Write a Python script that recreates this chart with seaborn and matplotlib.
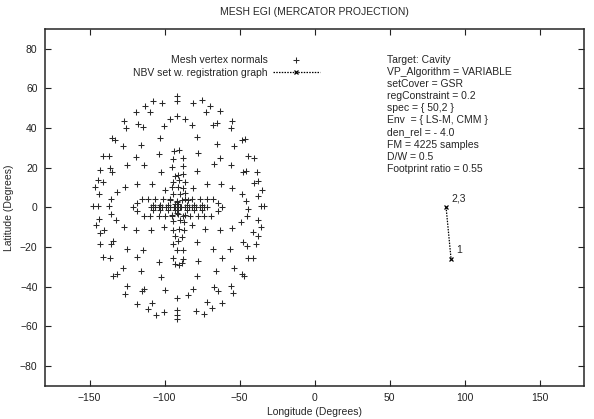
import numpy as np
import pandas as pd
import seaborn as sns
import matplotlib
matplotlib.use("Agg")
import matplotlib.pyplot as plt

# 网格顶点法向 (经度, 纬度) —— 从图上读出
mesh_lon = [
    # 左上
    -91.9, -91.9, -107.4, -101.4, -113.0, -119.2, -109.7, -126.8, -125.9, -117.4,
    -114.1, -96.3, -91.9, -100.3, -103.0, -134.8, -133.0, -127.4, -115.7, -119.2,
    -103.7, -140.8, -137.0, -125.2, -113.7, -143.0, -136.3, -135.2, -102.3, -144.1,
    -140.8, -146.3, -126.3, -118.1, -108.6, -143.7, -131.9, -135.7, -99.7, -147.4,
    -144.1, -137.0,
    # 右上
    -80.8, -75.2, -69.7, -72.6, -63.0, -86.3, -81.9, -67.4, -65.2, -54.8,
    -55.7, -78.6, -65.2, -53.4, -48.6, -46.3, -77.4, -63.0, -66.8, -55.9,
    -44.6, -40.6, -78.6, -47.4, -45.7, -38.6, -71.9, -62.6, -54.8, -80.8,
    -40.3, -37.4, -35.2, -48.6, -37.9, -45.7, -35.7, -33.4,
    # 左下
    -143.7, -145.9, -135.7, -132.6, -143.0, -140.1, -126.8, -119.2, -109.0, -100.3,
    -143.0, -135.7, -134.1, -125.2, -114.1, -118.1, -140.8, -136.3, -103.7, -134.1,
    -131.9, -127.4, -115.9, -102.3, -125.2, -126.3, -115.2, -113.4, -99.7, -118.6,
    -111.2, -108.6, -105.9, -100.3,
    # 右下
    -81.9, -73.0, -63.0, -54.8, -49.0, -45.2, -37.9, -35.7, -40.8, -38.0,
    -47.4, -45.2, -39.0, -78.6, -67.4, -56.3, -61.9, -77.9, -44.6, -40.8,
    -65.9, -53.7, -48.6, -46.8, -78.6, -80.8, -66.8, -64.1, -55.7, -54.1,
    -84.6, -71.9, -61.9, -68.6, -79.2, -73.4, -44.6,
    # 中心竖列下端
    -92.0, -91.5, -91.5, -91.5,
    # 水平椭圆
    -115.2, -110.8, -106.3, -100.8, -96.3, -86.3, -81.9, -76.3, -71.9, -67.4,
    -118.6, -64.1, -120.8, -62.0, -118.6, -64.1,
    -114.0, -109.7, -104.0, -99.7, -95.2, -87.6, -83.0, -78.0, -73.5, -69.0,
    # 水平密集条
    -109.0, -106.5, -104.0, -101.5, -99.0, -96.5, -94.0, -89.0, -86.5, -84.0,
    -81.5, -79.0, -76.5, -74.0, -71.5,
    -107.8, -102.8, -97.8, -85.2, -80.2, -75.2,
    -107.8, -102.8, -97.8, -85.2, -80.2, -75.2,
    # 中心
    -91.7, -92.7, -90.7, -92.7, -90.7, -91.7, -91.7, -93.5, -89.9,
    # 竖直臂
    -93.5, -90.5, -94.5, -88.0, -95.2, -87.4, -91.0, -93.0, -87.4, -94.1,
    -90.1, -86.3, -95.2, -90.7, -87.4, -94.1, -89.6, -86.3, -96.3, -91.9,
    -88.5, -84.1, -95.2, -90.7, -86.3, -94.1, -89.6, -87.0, -94.5, -90.1,
    -87.0, -93.0, -88.5, -90.7, -94.1, -91.9, -87.4, -94.1, -87.4, -93.0,
    -90.1, -88.5,
]
mesh_lat = [
    # 左上
    56.3, 53.8, 53.8, 52.6, 51.0, 48.3, 48.3, 43.8, 40.1, 42.1,
    40.5, 44.6, 46.0, 41.0, 35.1, 35.0, 33.8, 31.0, 31.6, 25.5,
    26.8, 26.0, 26.0, 21.3, 21.6, 18.8, 20.0, 17.6, 17.6, 13.8,
    12.6, 10.5, 10.5, 11.8, 11.6, 6.8, 7.6, 4.1, 8.8, 0.5,
    0.5, 0.5,
    # 右上
    52.6, 54.3, 51.0, 48.3, 48.8, 44.6, 41.6, 41.3, 42.6, 43.8,
    40.1, 35.5, 32.1, 31.0, 33.8, 34.6, 27.6, 25.0, 21.8, 21.3,
    25.8, 25.1, 18.5, 17.6, 18.3, 17.6, 11.8, 11.6, 9.6, 10.0,
    12.1, 13.3, 8.8, 6.8, 6.0, 3.3, 0.5, 0.5,
    # 左下
    -5.7, -8.7, -3.2, -6.5, -12.7, -11.5, -9.8, -11.5, -11.5, -9.8,
    -18.2, -18.2, -17.0, -21.0, -21.5, -24.8, -24.8, -25.7, -27.7, -34.5,
    -33.5, -30.7, -32.3, -35.3, -39.8, -43.7, -42.0, -41.0, -41.5, -48.5,
    -51.2, -48.2, -54.0, -52.7,
    # 右下
    -8.7, -11.0, -11.5, -10.2, -7.3, -4.3, -6.5, -9.8, -12.3, -14.3,
    -17.3, -19.3, -18.7, -17.3, -21.2, -21.0, -25.7, -27.0, -25.7, -25.7,
    -32.0, -30.7, -33.7, -34.8, -34.8, -41.0, -40.3, -42.0, -39.8, -43.2,
    -44.3, -47.7, -48.2, -50.7, -52.0, -53.7, -0.7,
    # 中心竖列下端
    -45.5, -51.8, -54.0, -56.5,
    # 水平椭圆
    4.0, 4.0, 4.0, 4.0, 4.0, 4.0, 4.0, 4.0, 4.0, 4.0,
    2.0, 2.0, 0.0, 0.0, -2.0, -2.0,
    -4.3, -4.3, -4.3, -4.3, -4.3, -4.3, -4.3, -4.3, -4.3, -4.3,
    # 水平密集条
    0.0, 0.0, 0.0, 0.0, 0.0, 0.0, 0.0, 0.0, 0.0, 0.0,
    0.0, 0.0, 0.0, 0.0, 0.0,
    1.3, 1.3, 1.3, 1.3, 1.3, 1.3,
    -1.3, -1.3, -1.3, -1.3, -1.3, -1.3,
    # 中心
    0.0, 1.5, 1.5, -1.5, -1.5, 2.8, -2.8, 0.0, 0.0,
    # 竖直臂
    28.3, 28.8, 24.5, 25.0, 20.5, 21.0, 16.5, 16.0, 16.8, 12.7,
    13.8, 12.7, 10.2, 10.5, 9.8, 6.8, 6.8, 7.2, 3.5, 3.2,
    3.8, 3.5, -3.6, -3.2, -3.6, -6.9, -6.6, -7.4, -11.3, -10.8,
    -11.6, -14.6, -14.9, -17.0, -18.3, -21.6, -21.6, -25.3, -25.8, -28.3,
    -29.2, -28.0,
]

# NBV 视点
nbv_lon = [87.7, 91.0]
nbv_lat = [0.2, -25.8]
nbv_labels = ["2,3", "1"]

info_lines = [
    "Target: Cavity",
    "VP_Algorithm = VARIABLE",
    "setCover = GSR",
    "regConstraint = 0.2",
    "spec = { 50,2 }",
    "Env  = { LS-M, CMM }",
    "den_rel = - 4.0",
    "FM = 4225 samples",
    "D/W = 0.5",
    "Footprint ratio = 0.55",
]

mesh_df = pd.DataFrame({"lon": mesh_lon, "lat": mesh_lat})
nbv_df = pd.DataFrame({"lon": nbv_lon, "lat": nbv_lat})

sns.set_style("ticks")
plt.rcParams["font.family"] = ["Liberation Sans", "DejaVu Sans"]

fig = plt.figure(figsize=(5.94, 4.19), dpi=100)
ax = fig.add_axes([0.075, 0.079, 0.909, 0.852])

sns.scatterplot(data=mesh_df, x="lon", y="lat", marker="+", s=13,
                color="#2a2a2a", linewidth=0.75, ax=ax,
                label="Mesh vertex normals")
sns.lineplot(data=nbv_df, x="lon", y="lat", marker="x", color="black",
             linestyle=(0, (1.2, 1.0)), linewidth=0.9, markersize=3.5,
             markeredgewidth=0.9, markeredgecolor="black", sort=False, ax=ax,
             label="NBV set w. registration graph")

for lo, la, t in zip(nbv_lon, nbv_lat, nbv_labels):
    ax.annotate(t, (lo, la), xytext=(4, 4), textcoords="offset points",
                fontsize=7.5)

ax.text(0.634, 0.928, "\n".join(info_lines), transform=ax.transAxes,
        va="top", ha="left", fontsize=7.5, linespacing=1.27)

ax.set_xlim(-180, 180)
ax.set_ylim(-90, 90)
ax.set_xticks(np.arange(-150, 151, 50))
ax.set_yticks(np.arange(-80, 81, 20))
ax.tick_params(direction="in", top=True, right=True, length=4, width=0.8,
               labelsize=7.5, pad=5, colors="#222222")
for sp in ax.spines.values():
    sp.set_visible(True)
    sp.set_linewidth(1.1)

ax.set_title("MESH EGI (MERCATOR PROJECTION)", fontsize=7.5, pad=10)
ax.set_xlabel("Longitude (Degrees)", fontsize=7.5, labelpad=3)
ax.set_ylabel("Latitude (Degrees)", fontsize=7.5, labelpad=4)

ax.legend(loc="upper right", bbox_to_anchor=(0.51, 0.928), markerfirst=False,
          frameon=False, fontsize=7.5, handlelength=4.5, handletextpad=0.5,
          borderpad=0, borderaxespad=0, labelspacing=0.3)

fig.savefig("out.png", dpi=100)
plt.close(fig)
